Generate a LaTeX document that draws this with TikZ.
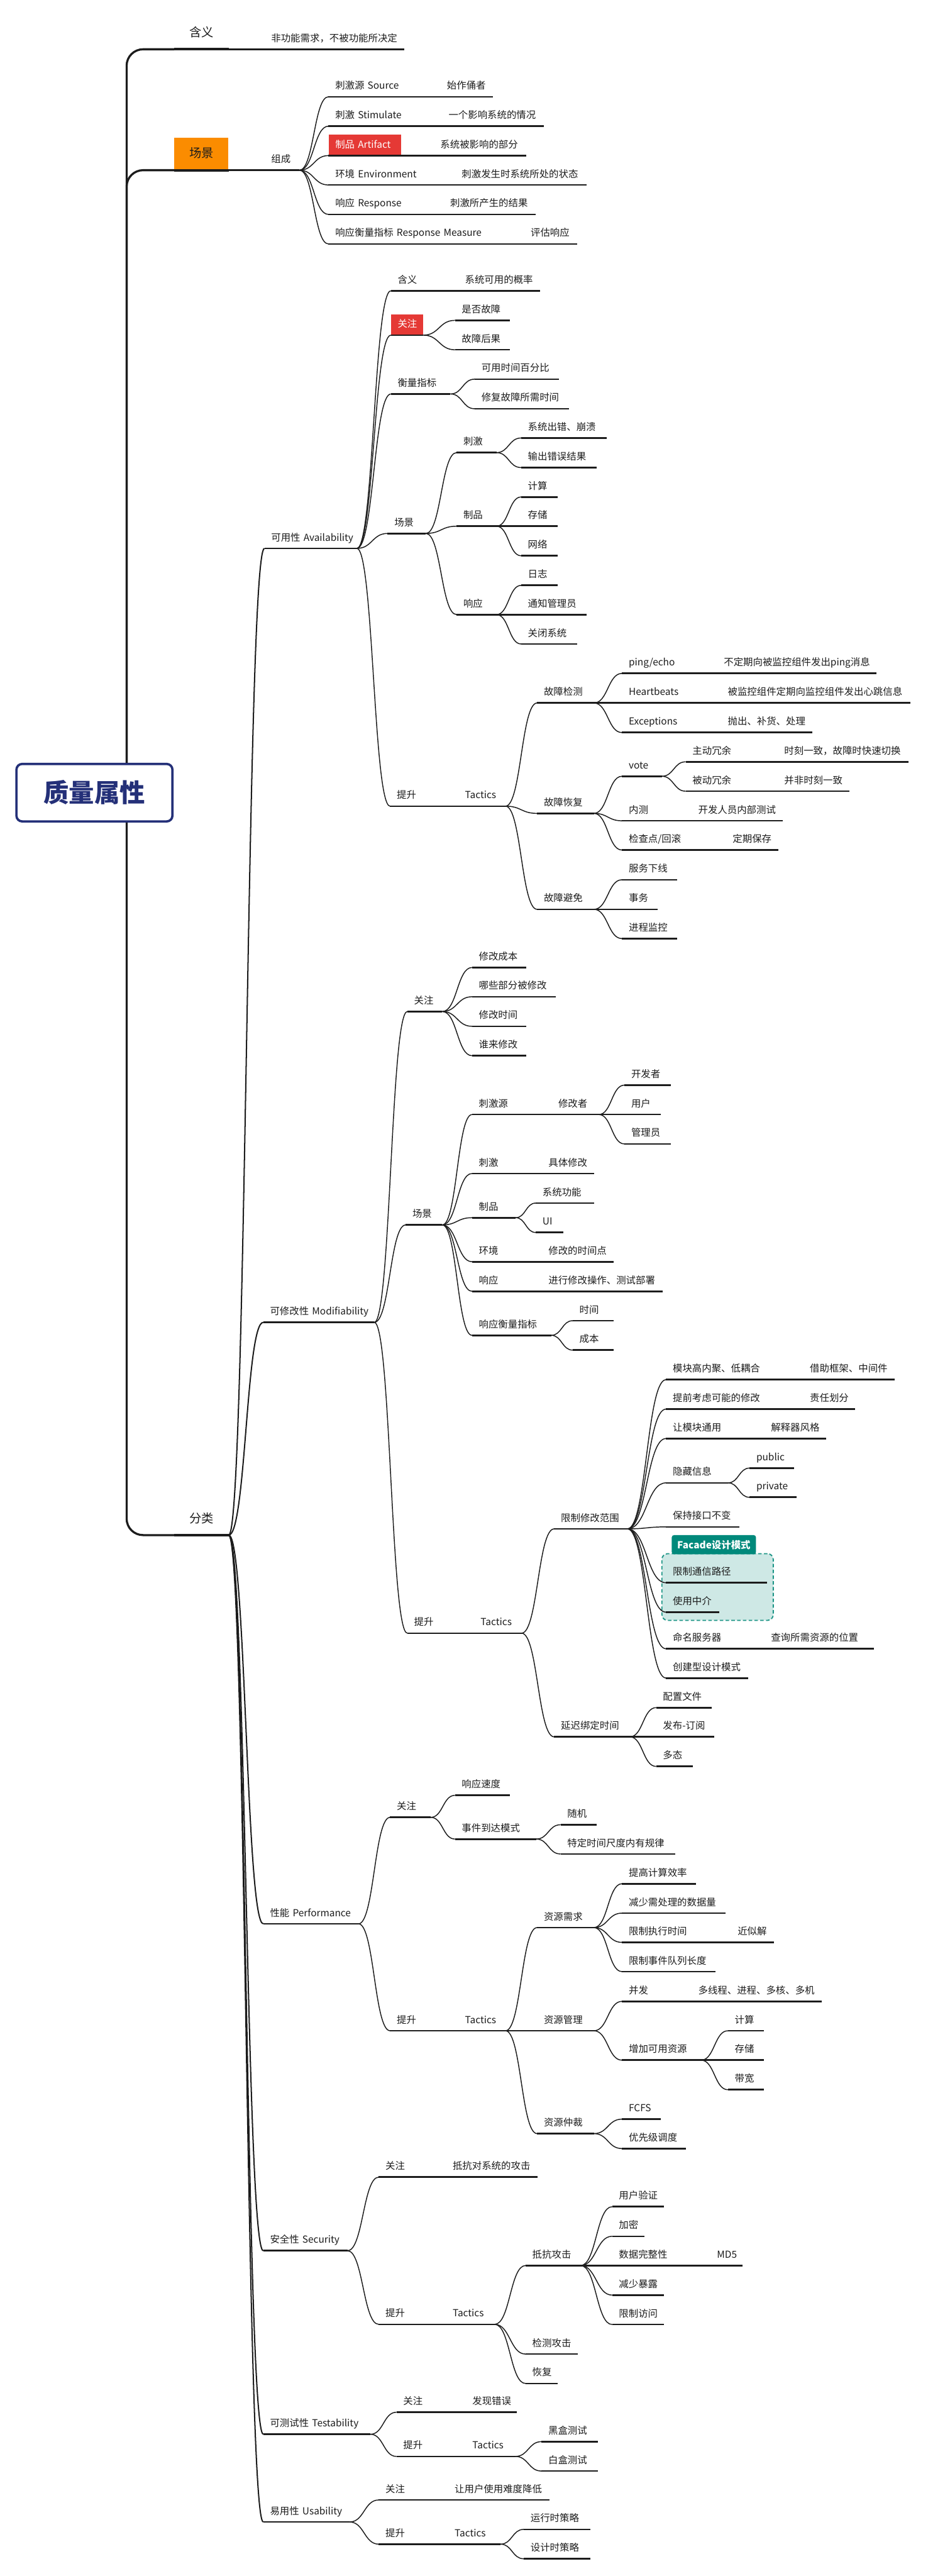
\documentclass[tikz,border=0pt]{standalone}
\usepackage{fontspec}
\setmainfont{Noto Sans CJK SC}
\usepackage{tikz}
\usetikzlibrary{calc}
\definecolor{inkdark}{RGB}{28,28,28}
\definecolor{rootnavy}{RGB}{36,48,120}
\definecolor{hlorange}{RGB}{251,140,0}
\definecolor{hlred}{RGB}{229,57,53}
\definecolor{facadeteal}{RGB}{0,137,123}
\definecolor{facadeedge}{RGB}{30,150,135}
\definecolor{facadebg}{RGB}{206,232,229}
\tikzset{
  ul/.style={draw=inkdark, line width=1.45pt},
  tp/.style={anchor=south west, inner xsep=0.2cm, inner ysep=4.5pt, text height=7pt, text depth=1.8pt,
    font=\fontsize{8.4}{10}\selectfont, text=inkdark, align=left,
    execute at begin node={\hbox\bgroup}, execute at end node={\egroup},
    append after command={(\tikzlastnode.south west) edge[ul] (\tikzlastnode.south east)}},
  w/.style={text width=#1*0.05cm-0.4cm},
  hl/.style={fill=hlred, text=white},
  lv1/.style={anchor=south west, minimum width=1.65cm, minimum height=28pt, inner sep=0pt,
    text height=9pt, text depth=2pt, font=\fontsize{10.5}{12}\selectfont, text=inkdark,
    append after command={(\tikzlastnode.south west) edge[ul, line width=2.1pt] (\tikzlastnode.south east)}},
  rootbox/.style={draw=rootnavy, line width=2pt, fill=white, rounded corners=5pt, minimum width=4.75cm,
    minimum height=1.75cm, text=rootnavy, font=\fontsize{22}{26}\selectfont\bfseries},
  rtln/.style={draw=inkdark, line width=1.8pt, rounded corners=0.5cm},
  cn/.style={draw=inkdark, line width=0.8pt},
  lnk/.style={cn, to path={let \p1=(\tikztostart), \p2=(\tikztotarget), \n1={0.5*(\x2-\x1)} in
    .. controls +(\n1,0pt) and +(-\n1,0pt) .. (\tikztotarget)}},
  fcbox/.style={draw=facadeedge, fill=facadebg, line width=1pt, dash pattern=on 3pt off 2pt, rounded corners=5pt},
  fclabel/.style={fill=facadeteal, text=white, font=\fontsize{8.4}{10}\selectfont\bfseries, rounded corners=2pt,
    minimum width=2.565cm, minimum height=0.585cm, inner sep=0pt}
}
\begin{document}
\begin{tikzpicture}[x=0.05cm, y=-0.05cm]
  \fill[white] (0,0) rectangle (565,1568);
  \useasboundingbox (0,0) rectangle (565,1568);

  % Root
  \node[rootbox] (root) at (57.5,482.5) {质量属性};

  % 含义
  \node[lv1] (hanyi) at (106,30) {含义};
  \node[tp, w=85] (hanyi-d) at (161,30) {非功能需求，不被功能所决定};

  % 场景
  \node[lv1, fill=hlorange] (cj) at (106,103.6) {场景};
  \node[tp, w=21] (zc) at (161,103.6) {组成};
  \node[tp, w=48] (zc-src) at (200,58.9) {刺激源 Source};
  \node[tp, w=32] (zc-src-d) at (268,58.9) {始作俑者};
  \node[tp, w=49] (zc-stm) at (200,76.8) {刺激 Stimulate};
  \node[tp, w=62] (zc-stm-d) at (269,76.8) {一个影响系统的情况};
  \node[tp, hl, w=44] (zc-art) at (200,94.7) {制品 Artifact};
  \node[tp, w=56] (zc-art-d) at (264,94.7) {系统被影响的部分};
  \node[tp, w=56] (zc-env) at (200,112.6) {环境 Environment};
  \node[tp, w=80] (zc-env-d) at (277,112.6) {刺激发生时系统所处的状态};
  \node[tp, w=49] (zc-rsp) at (200,130.5) {响应 Response};
  \node[tp, w=56] (zc-rsp-d) at (270,130.5) {刺激所产生的结果};
  \node[tp, w=98] (zc-rm) at (200,148.5) {响应衡量指标 Response Measure};
  \node[tp, w=32] (zc-rm-d) at (319,148.5) {评估响应};

  % 分类
  \node[lv1] (fl) at (106,934.4) {分类};
  \node[tp, w=56] (av) at (161,333.8) {可用性 Availability};
  \node[tp, w=67.3] (md) at (160.3,804.9) {可修改性 Modifiability};
  \node[tp, w=57.7] (pf) at (160.3,1171) {性能 Performance};
  \node[tp, w=51] (sc) at (160.3,1370) {安全性 Security};
  \node[tp, w=65] (ts) at (160.3,1481.7) {可测试性 Testability};
  \node[tp, w=52.3] (us) at (160.3,1535.1) {易用性 Usability};

  % 可用性
  \node[tp, w=20] (av-hy) at (238,177) {含义};
  \node[tp, w=49.5] (av-hy-d) at (279,177) {系统可用的概率};
  \node[tp, hl, w=19.5] (av-gz) at (238,204) {关注};
  \node[tp, w=33] (av-gz-a) at (277,195) {是否故障};
  \node[tp, w=33] (av-gz-b) at (277,212.9) {故障后果};
  \node[tp, w=36] (av-hl) at (238,239.8) {衡量指标};
  \node[tp, w=51] (av-hl-a) at (289,230.8) {可用时间百分比};
  \node[tp, w=57] (av-hl-b) at (289,248.8) {修复故障所需时间};
  \node[tp, w=23] (av-cj) at (236,324.7) {场景};
  \node[tp, w=24] (av-cj-a) at (278,275.5) {刺激};
  \node[tp, w=51.7] (av-cj-a1) at (317.3,266.6) {系统出错、崩溃};
  \node[tp, w=45.7] (av-cj-a2) at (317.3,284.6) {输出错误结果};
  \node[tp, w=24] (av-cj-b) at (278,320.3) {制品};
  \node[tp, w=22] (av-cj-b1) at (317.3,302.5) {计算};
  \node[tp, w=22] (av-cj-b2) at (317.3,320.3) {存储};
  \node[tp, w=22] (av-cj-b3) at (317.3,338.3) {网络};
  \node[tp, w=24] (av-cj-c) at (278,374.1) {响应};
  \node[tp, w=22] (av-cj-c1) at (317.3,356.3) {日志};
  \node[tp, w=39.7] (av-cj-c2) at (317.3,374.1) {通知管理员};
  \node[tp, w=33.7] (av-cj-c3) at (317.3,392) {关闭系统};
  \node[tp, w=21] (av-ts) at (237.5,490.7) {提升};
  \node[tp, w=28.5] (av-tc) at (279,490.7) {Tactics};
  \node[tp, w=34.3] (av-jc) at (327,427.9) {故障检测};
  \node[tp, w=37] (av-jc-a) at (378.7,409.9) {ping/echo};
  \node[tp, w=96.7] (av-jc-a1) at (436.6,409.9) {不定期向被监控组件发出ping消息};
  \node[tp, w=39] (av-jc-b) at (378.7,427.9) {Heartbeats};
  \node[tp, w=115.2] (av-jc-b1) at (439,427.9) {被监控组件定期向监控组件发出心跳信息};
  \node[tp, w=39] (av-jc-c) at (378.7,445.9) {Exceptions};
  \node[tp, w=55.4] (av-jc-c1) at (439,445.9) {抛出、补货、处理};
  \node[tp, w=34.3] (av-hf) at (327,495.1) {故障恢复};
  \node[tp, w=24] (av-hf-a) at (378.7,472.5) {vote};
  \node[tp, w=35.5] (av-hf-a1) at (417.5,463.7) {主动冗余};
  \node[tp, w=79.6] (av-hf-a1d) at (473.4,463.7) {时刻一致，故障时快速切换};
  \node[tp, w=35.5] (av-hf-a2) at (417.5,481.6) {被动冗余};
  \node[tp, w=43.4] (av-hf-a2d) at (473.4,481.6) {并非时刻一致};
  \node[tp, w=21.3] (av-hf-b) at (378.7,499.6) {内测};
  \node[tp, w=55.5] (av-hf-bd) at (421,499.6) {开发人员内部测试};
  \node[tp, w=42] (av-hf-c) at (378.7,517.4) {检查点/回滚};
  \node[tp, w=31.7] (av-hf-cd) at (442,517.4) {定期保存};
  \node[tp, w=34.3] (av-bm) at (327,553.5) {故障避免};
  \node[tp, w=33.2] (av-bm-a) at (378.7,535.5) {服务下线};
  \node[tp, w=21.3] (av-bm-b) at (378.7,553.5) {事务};
  \node[tp, w=33.2] (av-bm-c) at (378.7,571.3) {进程监控};

  % 可修改性
  \node[tp, w=21] (md-gz) at (248,615.7) {关注};
  \node[tp, w=32.6] (md-gz-a) at (287.4,588.9) {修改成本};
  \node[tp, w=50.6] (md-gz-b) at (287.4,606.7) {哪些部分被修改};
  \node[tp, w=32.6] (md-gz-c) at (287.4,624.7) {修改时间};
  \node[tp, w=32.6] (md-gz-d) at (287.4,642.6) {谁来修改};
  \node[tp, w=22] (md-cj) at (247,745.6) {场景};
  \node[tp, w=27.3] (md-cj-a) at (287.4,678.4) {刺激源};
  \node[tp, w=28.5] (md-cj-ad) at (335.8,678.4) {修改者};
  \node[tp, w=27.8] (md-cj-a1) at (380.2,660.5) {开发者};
  \node[tp, w=21.8] (md-cj-a2) at (380.2,678.4) {用户};
  \node[tp, w=27.8] (md-cj-a3) at (380.2,696.3) {管理员};
  \node[tp, w=21.6] (md-cj-b) at (287.4,714.3) {刺激};
  \node[tp, w=31.5] (md-cj-bd) at (329.8,714.3) {具体修改};
  \node[tp, w=26.3] (md-cj-c) at (287.4,741.2) {制品};
  \node[tp, w=35.1] (md-cj-c1) at (326.2,732.3) {系统功能};
  \node[tp, w=16.4] (md-cj-c2) at (326.2,750.2) {UI};
  \node[tp, w=21.6] (md-cj-d) at (287.4,768) {环境};
  \node[tp, w=43.5] (md-cj-dd) at (329.8,768) {修改的时间点};
  \node[tp, w=21.6] (md-cj-e) at (287.4,786) {响应};
  \node[tp, w=73.4] (md-cj-ed) at (329.8,786) {进行修改操作、测试部署};
  \node[tp, w=47.9] (md-cj-f) at (287.4,812.8) {响应衡量指标};
  \node[tp, w=24.6] (md-cj-f1) at (348.7,803.9) {时间};
  \node[tp, w=24.6] (md-cj-f2) at (348.7,821.8) {成本};
  \node[tp, w=20.5] (md-ts) at (248,994.1) {提升};
  \node[tp, w=28.8] (md-tc) at (288.5,994.1) {Tactics};
  \node[tp, w=44.3] (md-fw) at (337.4,930.6) {限制修改范围};
  \node[fcbox, minimum width=3.39cm, minimum height=2.03cm] (fcbox) at (436.9,966) {};
  \node[fclabel] (fclb) at (434.65,940.25) {Facade设计模式};
  \node[tp, w=63] (md-fw-a) at (405.5,839.8) {模块高内聚、低耦合};
  \node[tp, w=55.4] (md-fw-ad) at (489,839.8) {借助框架、中间件};
  \node[tp, w=63] (md-fw-b) at (405.5,857.7) {提前考虑可能的修改};
  \node[tp, w=31.5] (md-fw-bd) at (489,857.7) {责任划分};
  \node[tp, w=39.8] (md-fw-c) at (405.5,875.6) {让模块通用};
  \node[tp, w=37.3] (md-fw-cd) at (465.3,875.6) {解释器风格};
  \node[tp, w=37.5] (md-fw-d) at (405.5,902.6) {隐藏信息};
  \node[tp, w=26.9] (md-fw-d1) at (456.4,893.6) {public};
  \node[tp, w=28.4] (md-fw-d2) at (456.4,911.4) {private};
  \node[tp, w=44.3] (md-fw-e) at (405.5,929.4) {保持接口不变};
  \node[tp, w=61.2] (md-fw-f) at (405.5,963.4) {限制通信路径};
  \node[tp, w=32.3] (md-fw-g) at (405.5,981.3) {使用中介};
  \node[tp, w=39.8] (md-fw-h) at (405.5,1003.6) {命名服务器};
  \node[tp, w=66.6] (md-fw-hd) at (465.3,1003.6) {查询所需资源的位置};
  \node[tp, w=49.8] (md-fw-i) at (405.5,1021.4) {创建型设计模式};
  \node[tp, w=45.8] (md-yc) at (337.4,1057.2) {延迟绑定时间};
  \node[tp, w=33.7] (md-yc-a) at (399.5,1039.4) {配置文件};
  \node[tp, w=35.2] (md-yc-b) at (399.5,1057.2) {发布-订阅};
  \node[tp, w=21.9] (md-yc-c) at (399.5,1075.2) {多态};

  % 性能
  \node[tp, w=24.5] (pf-gz) at (237.5,1106.2) {关注};
  \node[tp, w=33.2] (pf-gz-a) at (277,1092.8) {响应速度};
  \node[tp, w=49.2] (pf-gz-b) at (277,1119.4) {事件到达模式};
  \node[tp, w=21.8] (pf-gz-b1) at (341.3,1110.7) {随机};
  \node[tp, w=69.7] (pf-gz-b2) at (341.3,1128.5) {特定时间尺度内有规律};
  \node[tp, w=21] (pf-ts) at (237.5,1236.1) {提升};
  \node[tp, w=28.5] (pf-tc) at (279,1236.1) {Tactics};
  \node[tp, w=34.3] (pf-xq) at (327,1173.3) {资源需求};
  \node[tp, w=44.8] (pf-xq-a) at (378.7,1146.6) {提高计算效率};
  \node[tp, w=62.8] (pf-xq-b) at (378.7,1164.5) {减少需处理的数据量};
  \node[tp, w=45.9] (pf-xq-c) at (378.7,1182.3) {限制执行时间};
  \node[tp, w=26] (pf-xq-cd) at (445,1182.3) {近似解};
  \node[tp, w=56.8] (pf-xq-d) at (378.7,1200.1) {限制事件队列长度};
  \node[tp, w=34.3] (pf-gl) at (327,1236.1) {资源管理};
  \node[tp, w=21.3] (pf-gl-a) at (378.7,1218.2) {并发};
  \node[tp, w=79.2] (pf-gl-ad) at (421,1218.2) {多线程、进程、多核、多机};
  \node[tp, w=47.9] (pf-gl-b) at (378.7,1254) {增加可用资源};
  \node[tp, w=21.5] (pf-gl-b1) at (443.2,1236.1) {计算};
  \node[tp, w=21.5] (pf-gl-b2) at (443.2,1254) {存储};
  \node[tp, w=21.5] (pf-gl-b3) at (443.2,1272) {带宽};
  \node[tp, w=34.3] (pf-zc) at (327,1298.7) {资源仲裁};
  \node[tp, w=23.3] (pf-zc-a) at (378.7,1289.9) {FCFS};
  \node[tp, w=38.8] (pf-zc-b) at (378.7,1307.8) {优先级调度};

  % 安全性
  \node[tp, w=20.4] (sc-gz) at (230.6,1325.2) {关注};
  \node[tp, w=55.4] (sc-gz-d) at (271.5,1325.2) {抵抗对系统的攻击};
  \node[tp, w=20.4] (sc-ts) at (230.6,1414.8) {提升};
  \node[tp, w=29.4] (sc-tc) at (271.5,1414.8) {Tactics};
  \node[tp, w=33.2] (sc-dk) at (320,1379) {抵抗攻击};
  \node[tp, w=31.3] (sc-dk-a) at (372.7,1343.2) {用户验证};
  \node[tp, w=19.4] (sc-dk-b) at (372.7,1361.2) {加密};
  \node[tp, w=39.3] (sc-dk-c) at (372.7,1379) {数据完整性};
  \node[tp, w=19.6] (sc-dk-cd) at (432.4,1379) {MD5};
  \node[tp, w=31.3] (sc-dk-d) at (372.7,1397) {减少暴露};
  \node[tp, w=31.3] (sc-dk-e) at (372.7,1414.9) {限制访问};
  \node[tp, w=31.7] (sc-jc) at (320,1432.9) {检测攻击};
  \node[tp, w=19.4] (sc-hf) at (320,1450.8) {恢复};

  % 可测试性
  \node[tp, w=21.6] (ts-gz) at (241.4,1468.3) {关注};
  \node[tp, w=31] (ts-gz-d) at (283.5,1468.3) {发现错误};
  \node[tp, w=21.6] (ts-ts) at (241.4,1495.2) {提升};
  \node[tp, w=30] (ts-tc) at (283.5,1495.2) {Tactics};
  \node[tp, w=34.2] (ts-tc-a) at (329.7,1486.2) {黑盒测试};
  \node[tp, w=34.2] (ts-tc-b) at (329.7,1504.1) {白盒测试};

  % 易用性
  \node[tp, w=21.4] (us-gz) at (230.6,1521.7) {关注};
  \node[tp, w=61.7] (us-gz-d) at (272.7,1521.7) {让用户使用难度降低};
  \node[tp, w=21.4] (us-ts) at (230.6,1548.6) {提升};
  \node[tp, w=31.8] (us-tc) at (272.7,1548.6) {Tactics};
  \node[tp, w=40.3] (us-tc-a) at (318.9,1539.6) {运行时策略};
  \node[tp, w=40.3] (us-tc-b) at (318.9,1557.5) {设计时策略};

  % root branches
  \draw[rtln] ([xshift=0.98cm]root.north) |- (hanyi.south west);
  \draw[rtln] ([xshift=0.98cm]root.north) |- (cj.south west);
  \draw[rtln] ([xshift=0.98cm]root.south) |- (fl.south west);

  % curved links
  \foreach \a/\b in {fl/av, fl/md, fl/pf, fl/sc, fl/ts, fl/us}
    \draw[lnk, line width=1.1pt] (\a.south east) to (\b.south west);
  \foreach \a/\b in {zc/zc-src, zc/zc-stm, zc/zc-art, zc/zc-env, zc/zc-rsp, zc/zc-rm,
      av/av-hy, av/av-gz, av/av-hl, av/av-cj, av/av-ts,
      av-gz/av-gz-a, av-gz/av-gz-b, av-hl/av-hl-a, av-hl/av-hl-b,
      av-cj/av-cj-a, av-cj/av-cj-b, av-cj/av-cj-c,
      av-cj-a/av-cj-a1, av-cj-a/av-cj-a2, av-cj-b/av-cj-b1, av-cj-b/av-cj-b3,
      av-cj-c/av-cj-c1, av-cj-c/av-cj-c3,
      av-tc/av-jc, av-tc/av-hf, av-tc/av-bm,
      av-jc/av-jc-a, av-jc/av-jc-c, av-hf/av-hf-a, av-hf/av-hf-b, av-hf/av-hf-c,
      av-hf-a/av-hf-a1, av-hf-a/av-hf-a2, av-bm/av-bm-a, av-bm/av-bm-c,
      md/md-gz, md/md-cj, md/md-ts,
      md-gz/md-gz-a, md-gz/md-gz-b, md-gz/md-gz-c, md-gz/md-gz-d,
      md-cj/md-cj-a, md-cj/md-cj-b, md-cj/md-cj-c, md-cj/md-cj-d, md-cj/md-cj-e, md-cj/md-cj-f,
      md-cj-ad/md-cj-a1, md-cj-ad/md-cj-a3, md-cj-c/md-cj-c1, md-cj-c/md-cj-c2,
      md-cj-f/md-cj-f1, md-cj-f/md-cj-f2,
      md-tc/md-fw, md-tc/md-yc,
      md-fw/md-fw-a, md-fw/md-fw-b, md-fw/md-fw-c, md-fw/md-fw-d, md-fw/md-fw-e,
      md-fw/md-fw-f, md-fw/md-fw-g, md-fw/md-fw-h, md-fw/md-fw-i,
      md-fw-d/md-fw-d1, md-fw-d/md-fw-d2, md-yc/md-yc-a, md-yc/md-yc-c,
      pf/pf-gz, pf/pf-ts, pf-gz/pf-gz-a, pf-gz/pf-gz-b, pf-gz-b/pf-gz-b1, pf-gz-b/pf-gz-b2,
      pf-tc/pf-xq, pf-tc/pf-zc,
      pf-xq/pf-xq-a, pf-xq/pf-xq-b, pf-xq/pf-xq-c, pf-xq/pf-xq-d,
      pf-gl/pf-gl-a, pf-gl/pf-gl-b, pf-gl-b/pf-gl-b1, pf-gl-b/pf-gl-b3,
      pf-zc/pf-zc-a, pf-zc/pf-zc-b,
      sc/sc-gz, sc/sc-ts, sc-tc/sc-dk, sc-tc/sc-jc, sc-tc/sc-hf,
      sc-dk/sc-dk-a, sc-dk/sc-dk-b, sc-dk/sc-dk-d, sc-dk/sc-dk-e,
      ts/ts-gz, ts/ts-ts, ts-tc/ts-tc-a, ts-tc/ts-tc-b,
      us/us-gz, us/us-ts, us-tc/us-tc-a, us-tc/us-tc-b}
    \draw[lnk] (\a.south east) to (\b.south west);

  % straight links
  \foreach \a/\b in {hanyi/hanyi-d, cj/zc, zc-src/zc-src-d, zc-stm/zc-stm-d, zc-art/zc-art-d,
      zc-env/zc-env-d, zc-rsp/zc-rsp-d, zc-rm/zc-rm-d, av-hy/av-hy-d, av-ts/av-tc,
      av-cj-b/av-cj-b2, av-cj-c/av-cj-c2, av-jc/av-jc-b, av-bm/av-bm-b,
      av-jc-a/av-jc-a1, av-jc-b/av-jc-b1, av-jc-c/av-jc-c1, av-hf-a1/av-hf-a1d,
      av-hf-a2/av-hf-a2d, av-hf-b/av-hf-bd, av-hf-c/av-hf-cd,
      md-cj-a/md-cj-ad, md-cj-ad/md-cj-a2, md-cj-b/md-cj-bd, md-cj-d/md-cj-dd, md-cj-e/md-cj-ed,
      md-ts/md-tc, md-fw-a/md-fw-ad, md-fw-b/md-fw-bd, md-fw-c/md-fw-cd, md-fw-h/md-fw-hd,
      md-yc/md-yc-b, pf-ts/pf-tc, pf-tc/pf-gl, pf-xq-c/pf-xq-cd, pf-gl-a/pf-gl-ad,
      pf-gl-b/pf-gl-b2, sc-gz/sc-gz-d, sc-ts/sc-tc, sc-dk/sc-dk-c, sc-dk-c/sc-dk-cd,
      ts-gz/ts-gz-d, ts-ts/ts-tc, us-gz/us-gz-d, us-ts/us-tc}
    \draw[ul] (\a.south east) -- (\b.south west);
\end{tikzpicture}
\end{document}
